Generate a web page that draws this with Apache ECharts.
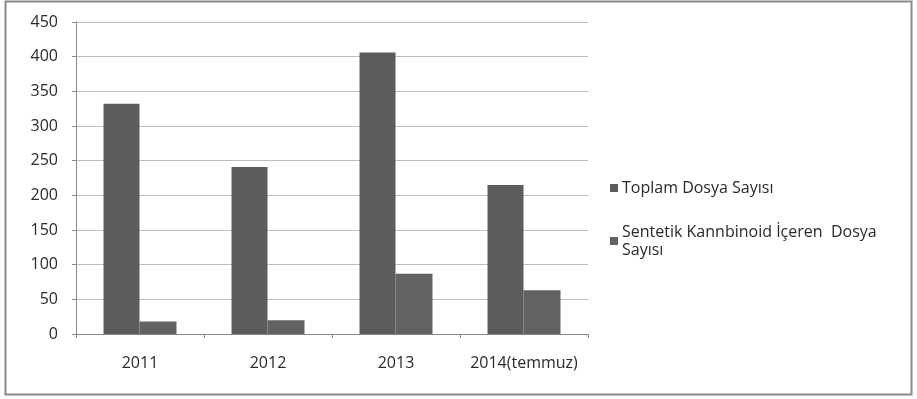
<!DOCTYPE html>
<html>
<head>
<meta charset="utf-8">
<script src="https://cdn.jsdelivr.net/npm/echarts@6/dist/echarts.min.js"></script>
<style>
  html, body { margin: 0; padding: 0; background: #fff; }
  #chart { width: 917px; height: 399px; }
</style>
</head>
<body>
<div id="chart"></div>
<script>
  // kategoriler ve seriler
  var years = ['2011', '2012', '2013', '2014(temmuz)'];
  var toplamDosya = [332, 241, 406, 215];
  var sentetikDosya = [18, 20, 87, 63];
  var seriesNames = ['Toplam Dosya Sayısı', 'Sentetik Kannbinoid İçeren Dosya Sayısı'];

  var chart = echarts.init(document.getElementById('chart'));
  var font = '"Open Sans", sans-serif';

  var option = {
    backgroundColor: '#fff',
    animation: false,
    graphic: [{
      type: 'rect',
      shape: { x: 5.5, y: 1.5, width: 906, height: 393 },
      style: { fill: 'none', stroke: '#8a8a8a', lineWidth: 2 },
      silent: true
    }],
    grid: { left: 76, right: 329, top: 22, bottom: 65 },
    legend: {
      orient: 'vertical',
      left: 605,
      top: 174,
      itemWidth: 8,
      itemHeight: 8,
      itemGap: 26,
      icon: 'rect',
      data: seriesNames,
      formatter: function (name) {
        return name === seriesNames[1] ? 'Sentetik Kannbinoid İçeren  Dosya\nSayısı' : name;
      },
      textStyle: { fontFamily: font, fontSize: 16, color: '#2a2a2a', lineHeight: 18, padding: [0, 0, 0, -1] }
    },
    xAxis: {
      type: 'category',
      data: years,
      axisLine: { lineStyle: { color: '#888' } },
      axisTick: { show: true, length: 4, lineStyle: { color: '#888' } },
      axisLabel: { fontFamily: font, fontSize: 16, color: '#2a2a2a', margin: 21, interval: 0 }
    },
    yAxis: {
      type: 'value',
      min: 0,
      max: 450,
      interval: 50,
      axisLine: { show: true, lineStyle: { color: '#888' } },
      axisTick: { show: true, length: 4, lineStyle: { color: '#888' } },
      splitLine: { lineStyle: { color: '#bdbdbd' } },
      axisLabel: { fontFamily: font, fontSize: 16, color: '#2a2a2a', margin: 18 }
    },
    series: [
      {
        name: seriesNames[0],
        type: 'bar',
        data: toplamDosya,
        barWidth: 36,
        barGap: '0%',
        itemStyle: { color: '#5c5c5c' }
      },
      {
        name: seriesNames[1],
        type: 'bar',
        data: sentetikDosya,
        barWidth: 37,
        barGap: '0%',
        itemStyle: { color: '#626262' }
      }
    ]
  };

  chart.setOption(option);
  window.addEventListener('resize', function () { chart.resize(); });
</script>
</body>
</html>
